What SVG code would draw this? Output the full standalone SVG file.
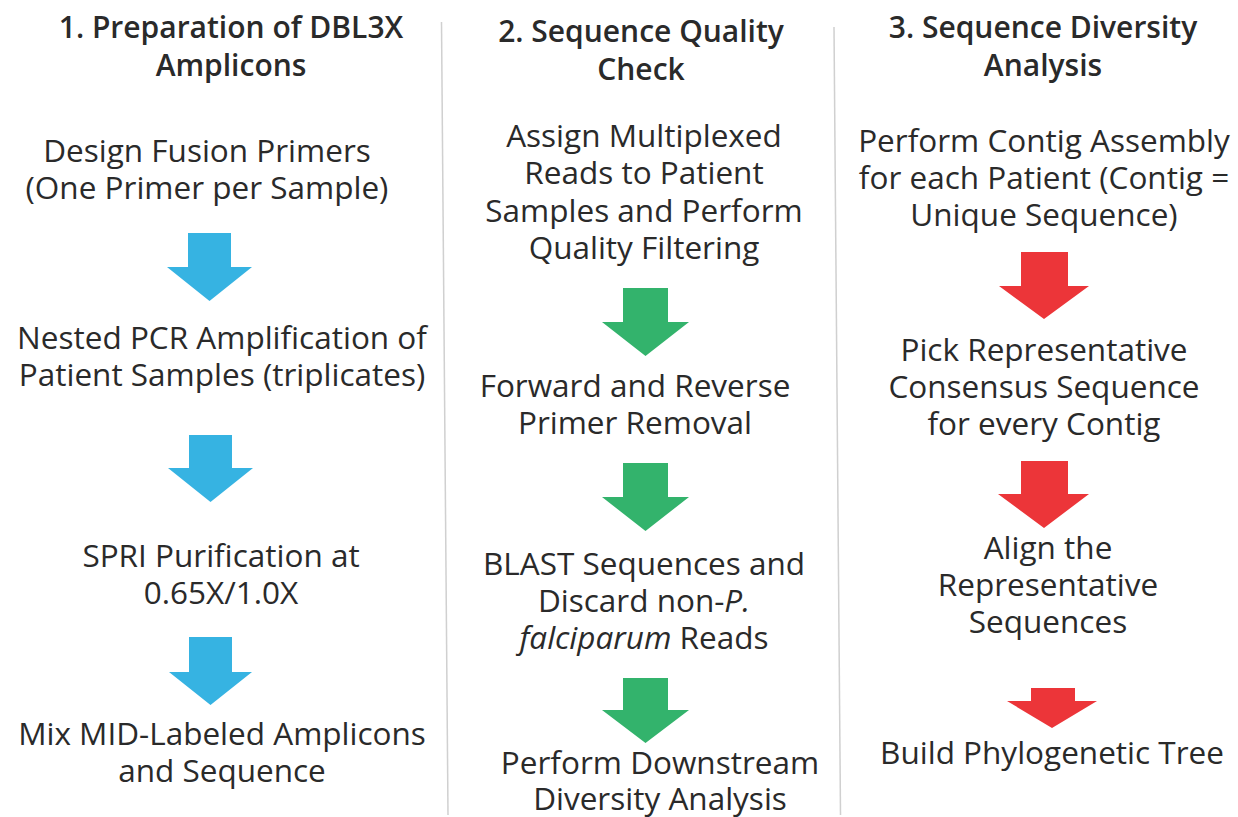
<svg xmlns="http://www.w3.org/2000/svg" width="1238" height="817" viewBox="0 0 1238 817">
<style>
text{font-family:"Open Sans","Noto Sans","DejaVu Sans",sans-serif;fill:#2a2a2a;text-anchor:middle;font-size:31.5px}
.t{font-weight:600;font-size:30px}
.div{stroke:#d0d0d0;stroke-width:1.5}
.b{fill:#36B3E2}.g{fill:#33B36C}.r{fill:#EC3539}
</style>
<rect width="1238" height="817" fill="#fff"/>
<g id="dividers">
<line class="div" x1="441.5" y1="22" x2="448" y2="815"/>
<line class="div" x1="834" y1="27" x2="840.5" y2="815"/>
</g>
<g id="col1-title"><text class="t" x="231" y="38">1. Preparation of DBL3X</text><text class="t" x="231" y="76">Amplicons</text></g>
<g id="col2-title"><text class="t" x="641" y="42">2. Sequence Quality</text><text class="t" x="641" y="80">Check</text></g>
<g id="col3-title"><text class="t" x="1043" y="38">3. Sequence Diversity</text><text class="t" x="1043" y="76">Analysis</text></g>
<g id="n1"><text x="207" y="162">Design Fusion Primers</text><text x="207" y="199">(One Primer per Sample)</text></g>
<g id="n2"><text x="222" y="349">Nested PCR Amplification of</text><text x="222" y="386">Patient Samples (triplicates)</text></g>
<g id="n3"><text x="221" y="567">SPRI Purification at</text><text x="221" y="604">0.65X/1.0X</text></g>
<g id="n4"><text x="222" y="745">Mix MID-Labeled Amplicons</text><text x="222" y="782">and Sequence</text></g>
<g id="n5"><text x="644" y="147">Assign Multiplexed</text><text x="644" y="184">Reads to Patient</text><text x="644" y="222">Samples and Perform</text><text x="644" y="259">Quality Filtering</text></g>
<g id="n6"><text x="635" y="397">Forward and Reverse</text><text x="635" y="434">Primer Removal</text></g>
<g id="n7"><text x="644" y="575">BLAST Sequences and</text><text x="644" y="612">Discard non-<tspan font-style="italic">P.</tspan></text><text x="644" y="649"><tspan font-style="italic">falciparum</tspan> Reads</text></g>
<g id="n8"><text x="660" y="774">Perform Downstream</text><text x="660" y="810">Diversity Analysis</text></g>
<g id="n9"><text x="1044" y="152">Perform Contig Assembly</text><text x="1044" y="189">for each Patient (Contig =</text><text x="1044" y="226">Unique Sequence)</text></g>
<g id="n10"><text x="1044" y="361">Pick Representative</text><text x="1044" y="398">Consensus Sequence</text><text x="1044" y="435">for every Contig</text></g>
<g id="n11"><text x="1048" y="559">Align the</text><text x="1048" y="596">Representative</text><text x="1048" y="633">Sequences</text></g>
<g id="n12"><text x="1052" y="764">Build Phylogenetic Tree</text></g>
<g id="connectors">
<polygon class="b" points="188,233 231,233 231,267 252,267 209.5,301 167,267 188,267"/>
<polygon class="b" points="189,435 232,435 232,468 253,468 210.5,502 168,468 189,468"/>
<polygon class="b" points="189,637 232,637 232,672 252,672 210.5,705 169,672 189,672"/>
<polygon class="g" points="623,288 668,288 668,322 689,322 645.5,356 602,322 623,322"/>
<polygon class="g" points="623,463 668,463 668,497 689,497 645.5,531 602,497 623,497"/>
<polygon class="g" points="623,678 668,678 668,710 689,710 645.5,743 602,710 623,710"/>
<polygon class="r" points="1021,252 1068,252 1068,286 1089,286 1044,319 999,286 1021,286"/>
<polygon class="r" points="1021,461 1068,461 1068,494 1089,494 1044,528 998,494 1021,494"/>
<polygon class="r" points="1031,688 1075,688 1075,701 1097,701 1052,728 1007,701 1031,701"/>
</g>
</svg>
